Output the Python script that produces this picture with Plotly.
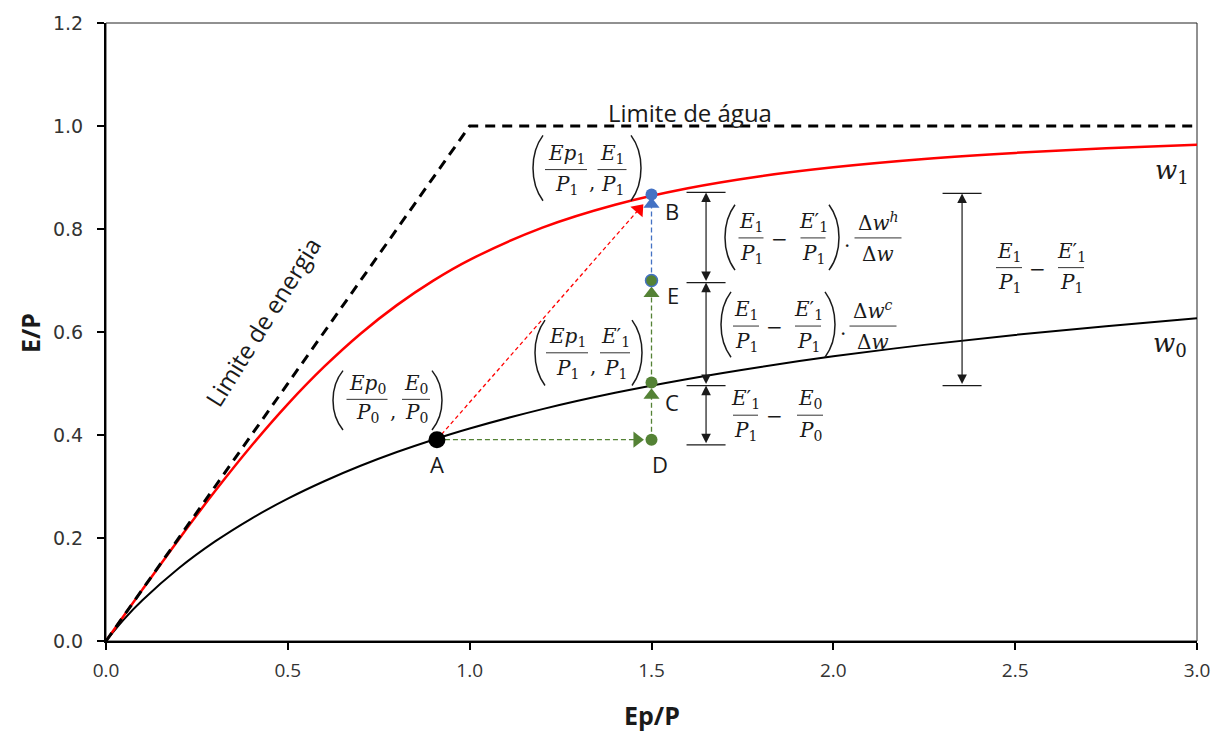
import plotly.graph_objects as go

# ---------------- data ----------------
ep_p = [0.0, 0.05, 0.1, 0.2, 0.3, 0.4, 0.5, 0.6, 0.7, 0.8, 0.9, 1.0,
        1.2, 1.4, 1.6, 1.8, 2.0, 2.25, 2.5, 2.75, 3.0]
e_p_w0 = [0.0, 0.0426, 0.0790, 0.1412, 0.1933, 0.2378, 0.2764, 0.3102, 0.3402,
          0.3669, 0.3909, 0.4126, 0.4503, 0.4820, 0.5089, 0.5322, 0.5527,
          0.5750, 0.5943, 0.6114, 0.6265]
e_p_w1 = [0.0, 0.0500, 0.0997, 0.1973, 0.2911, 0.3791, 0.4600, 0.5326, 0.5967,
          0.6522, 0.6998, 0.7401, 0.8027, 0.8472, 0.8792, 0.9026, 0.9199,
          0.9360, 0.9478, 0.9566, 0.9634]
limit_x = [0.0, 1.0, 3.0]
limit_y = [0.0, 1.0, 1.0]

point_labels = ["A", "B", "C", "D", "E"]
point_x = [0.91, 1.5, 1.5, 1.5, 1.5]
point_y = [0.391, 0.867, 0.502, 0.391, 0.700]

# arrow-head positions of the dashed transitions
red_head = (1.465, 0.838)
blue_head = (1.5, 0.848)
green_head_d = (1.46, 0.391)
green_head_c = (1.5, 0.477)
green_head_e = (1.5, 0.675)

# dimension lines
dim_x = 1.65
dim_levels = [0.871, 0.696, 0.496, 0.381]
tot_x = 2.354
tot_levels = [0.869, 0.496]

x_ticks = [0.0, 0.5, 1.0, 1.5, 2.0, 2.5, 3.0]
y_ticks = [0.0, 0.2, 0.4, 0.6, 0.8, 1.0, 1.2]

# ---------------- helpers (pixel layout -> paper / data units) ----------------
W, H = 1228, 733
L_PX, R_PX, T_PX, B_PX = 106, 1197, 17, 641


def X(px):
    return (px - L_PX) * 3.0 / (R_PX - L_PX)


def Y(py):
    return (B_PX - py) * 1.2 / (B_PX - T_PX)


def PX(px):
    return (px - L_PX) / (R_PX - L_PX)


def PY(py):
    return (B_PX - py) / (B_PX - T_PX)


GREEN = "#548235"
BLUE = "#4472C4"
RED = "#FF0000"
INK = "#1a1a1a"
MATH_FONT = dict(family="DejaVu Serif", size=20, color=INK)
SANS = "Open Sans"

fig = go.Figure()

# curves
fig.add_trace(go.Scatter(x=ep_p, y=e_p_w0, mode="lines", line=dict(color="black", width=2, shape="spline")))
fig.add_trace(go.Scatter(x=ep_p, y=e_p_w1, mode="lines", line=dict(color=RED, width=2.5, shape="spline")))
fig.add_trace(go.Scatter(x=limit_x, y=limit_y, mode="lines",
                         line=dict(color="black", width=3, dash="10px,7px")))

# dashed transitions
A = (point_x[0], point_y[0])
B = (point_x[1], point_y[1])
C = (point_x[2], point_y[2])
D = (point_x[3], point_y[3])
E = (point_x[4], point_y[4])
fig.add_trace(go.Scatter(x=[A[0], red_head[0]], y=[A[1], red_head[1]], mode="lines",
                         line=dict(color=RED, width=1.3, dash="4px,3px")))
fig.add_trace(go.Scatter(x=[A[0], green_head_d[0]], y=[A[1], green_head_d[1]], mode="lines",
                         line=dict(color=GREEN, width=1.3, dash="5px,3px")))
fig.add_trace(go.Scatter(x=[D[0], green_head_c[0]], y=[D[1], green_head_c[1]], mode="lines",
                         line=dict(color=GREEN, width=1.3, dash="5px,3px")))
fig.add_trace(go.Scatter(x=[C[0], green_head_e[0]], y=[C[1], green_head_e[1]], mode="lines",
                         line=dict(color=GREEN, width=1.3, dash="5px,3px")))
fig.add_trace(go.Scatter(x=[E[0], blue_head[0]], y=[E[1], blue_head[1]], mode="lines",
                         line=dict(color=BLUE, width=1.3, dash="5px,3px")))

# arrow heads
fig.add_trace(go.Scatter(x=[red_head[0]], y=[red_head[1]], mode="markers",
                         marker=dict(symbol="triangle-up", size=14, color=RED, angle=41)))
fig.add_trace(go.Scatter(x=[green_head_d[0]], y=[green_head_d[1]], mode="markers",
                         marker=dict(symbol="triangle-right", size=14, color=GREEN)))
fig.add_trace(go.Scatter(x=[green_head_c[0], green_head_e[0]], y=[green_head_c[1], green_head_e[1]],
                         mode="markers", marker=dict(symbol="triangle-up", size=14, color=GREEN)))
fig.add_trace(go.Scatter(x=[blue_head[0]], y=[blue_head[1]], mode="markers",
                         marker=dict(symbol="triangle-up", size=14, color=BLUE)))

# points
fig.add_trace(go.Scatter(x=[A[0]], y=[A[1]], mode="markers",
                         marker=dict(size=17, color="black")))
fig.add_trace(go.Scatter(x=[C[0], D[0]], y=[C[1], D[1]], mode="markers",
                         marker=dict(size=12, color=GREEN)))
fig.add_trace(go.Scatter(x=[E[0]], y=[E[1]], mode="markers",
                         marker=dict(size=12, color=GREEN, line=dict(color=BLUE, width=1.5))))
fig.add_trace(go.Scatter(x=[B[0]], y=[B[1]], mode="markers",
                         marker=dict(size=12, color=BLUE)))

annotations = []
shapes = []

# plot frame (thin) on top/right
shapes.append(dict(type="rect", xref="paper", yref="paper", x0=0, x1=1, y0=0, y1=1,
                   line=dict(color="#222", width=1), layer="below"))


# dimension lines with double arrow heads
def dim_arrow(x, y0, y1):
    annotations.append(dict(x=x, y=y1, ax=x, ay=y0, xref="x", yref="y", axref="x", ayref="y",
                            text="", showarrow=True, arrowhead=2, startarrowhead=2,
                            arrowside="end+start", arrowsize=1.6, startarrowsize=1.6,
                            arrowwidth=1.2, arrowcolor=INK))


def bar(x, y, half_px=19.5):
    shapes.append(dict(type="line", xref="x", yref="y",
                       x0=x - half_px * 3.0 / (R_PX - L_PX), x1=x + half_px * 3.0 / (R_PX - L_PX),
                       y0=y, y1=y, line=dict(color=INK, width=1.2)))


for i in range(len(dim_levels) - 1):
    dim_arrow(dim_x, dim_levels[i + 1], dim_levels[i])
for lv in dim_levels:
    bar(dim_x, lv)
dim_arrow(tot_x, tot_levels[1], tot_levels[0])
for lv in tot_levels:
    bar(tot_x, lv)


def txt(px, py, s, font, angle=0, xanchor="center"):
    annotations.append(dict(x=PX(px), y=PY(py), xref="paper", yref="paper", text=s, showarrow=False,
                            font=font, textangle=angle, xanchor=xanchor, yanchor="middle"))


def frac(cx, ly, num, den, w, dn=16, dd=16):
    txt(cx, ly - dn, num, MATH_FONT)
    txt(cx, ly + dd, den, MATH_FONT)
    shapes.append(dict(type="line", xref="x", yref="y", x0=X(cx - w / 2), x1=X(cx + w / 2),
                       y0=Y(ly), y1=Y(ly), line=dict(color="#333", width=1)))


def paren(px, cy, side, h=33, b=10):
    if side == "L":
        e, c = px + b, px - b / 3.0
    else:
        e, c = px - b, px + b / 3.0
    top, bot = cy - h, cy + h
    path = (f"M {X(e)},{Y(top)} C {X(c)},{Y(cy - h * 0.45)} "
            f"{X(c)},{Y(cy + h * 0.45)} {X(e)},{Y(bot)}")
    shapes.append(dict(type="path", xref="x", yref="y", path=path,
                       line=dict(color=INK, width=1.5)))


E1 = "<i>E</i><sub>1</sub>"
E1p = "<i>E</i>′<sub>1</sub>"
E0 = "<i>E</i><sub>0</sub>"
P1 = "<i>P</i><sub>1</sub>"
P0 = "<i>P</i><sub>0</sub>"
Ep1 = "<i>Ep</i><sub>1</sub>"
Ep0 = "<i>Ep</i><sub>0</sub>"
DWH = "Δ<i>w</i><sup><i>h</i></sup>"
DWC = "Δ<i>w</i><sup><i>c</i></sup>"
DW = "Δ<i>w</i>"
PLAIN_MATH = dict(family="DejaVu Serif", size=20, color=INK)

# group a: (Ep0/P0, E0/P0)
paren(333, 398, "L", h=30); paren(442, 398, "R", h=30)
frac(367, 397, Ep0, P0, 41, dn=15, dd=14)
frac(416, 397, E0, P0, 28, dn=15, dd=14)
txt(393, 409, ",", PLAIN_MATH)

# group b: (Ep1/P1, E1/P1)
paren(533, 163.5, "L"); paren(641, 163.5, "R")
frac(566, 165, Ep1, P1, 42)
frac(612, 165, E1, P1, 29)
txt(592, 178, ",", PLAIN_MATH)

# group c: (Ep1/P1, E'1/P1)
paren(535, 350, "L"); paren(642, 350, "R")
frac(567, 350, Ep1, P1, 42)
frac(615, 350, E1p, P1, 30)
txt(593, 363, ",", PLAIN_MATH)

# group d: (E1/P1 - E'1/P1) . dw^h/dw
paren(725, 233.5, "L"); paren(839, 233.5, "R")
frac(751, 234, E1, P1, 25)
txt(779, 235, "−", PLAIN_MATH)
frac(813, 234, E1p, P1, 25)
txt(847, 236, ".", PLAIN_MATH)
frac(878, 234, DWH, DW, 47)

# group e: (E1/P1 - E'1/P1) . dw^c/dw
paren(721, 321.5, "L"); paren(835, 321.5, "R")
frac(746, 323, E1, P1, 26)
txt(774, 324, "−", PLAIN_MATH)
frac(808, 323, E1p, P1, 26)
txt(843, 325, ".", PLAIN_MATH)
frac(873, 323, DWC, DW, 47)

# group f: E'1/P1 - E0/P0
frac(745.5, 413, E1p, P1, 25)
txt(774, 414, "−", PLAIN_MATH)
frac(810, 413, E0, P0, 26)

# group g: E1/P1 - E'1/P1
frac(1009, 264, E1, P1, 26)
txt(1037, 265, "−", PLAIN_MATH)
frac(1071, 264, E1p, P1, 26)

# curve labels
txt(1172, 167, "<i>w</i><sub>1</sub>", dict(family="DejaVu Serif", size=26, color=INK))
txt(1170, 342, "<i>w</i><sub>0</sub>", dict(family="DejaVu Serif", size=26, color=INK))

# point letters
LET = dict(family=SANS, size=22, color=INK)
txt(437, 462, point_labels[0], LET)
txt(672, 207, point_labels[1], LET)
txt(672, 400, point_labels[2], LET)
txt(660, 462, point_labels[3], LET)
txt(673, 292, point_labels[4], LET)

# limit labels
txt(690, 107, "Limite de água", dict(family=SANS, size=24, color=INK))
txt(262, 319, "Limite de energia", dict(family=SANS, size=24, color=INK), angle=-58)

# axis titles
txt(30, 330, "<b>E/P</b>", dict(family=SANS, size=25, color=INK), angle=-90)
txt(652, 716, "<b>Ep/P</b>", dict(family=SANS, size=25, color=INK))

fig.update_layout(
    width=W, height=H,
    margin=dict(l=L_PX, r=W - R_PX, t=T_PX, b=H - B_PX),
    paper_bgcolor="white", plot_bgcolor="white",
    showlegend=False,
    annotations=annotations, shapes=shapes,
    xaxis=dict(range=[0, 3], tickvals=x_ticks, ticktext=[f"{v:.1f}" for v in x_ticks],
               showgrid=False, zeroline=False, showline=True, linecolor="black", linewidth=2,
               ticks="outside", ticklen=7, tickwidth=1.5, tickcolor="black",
               ticklabelstandoff=4,
               tickfont=dict(family="Open Sans", size=19, color="#333333")),
    yaxis=dict(range=[0, 1.2], tickvals=y_ticks, ticktext=[f"{v:.1f}" for v in y_ticks],
               showgrid=False, zeroline=False, showline=True, linecolor="black", linewidth=2,
               ticks="outside", ticklen=7, tickwidth=1.5, tickcolor="black",
               ticklabelstandoff=10,
               tickfont=dict(family="DejaVu Sans", size=19, color="#333333")),
)

fig.write_html("out.html")
